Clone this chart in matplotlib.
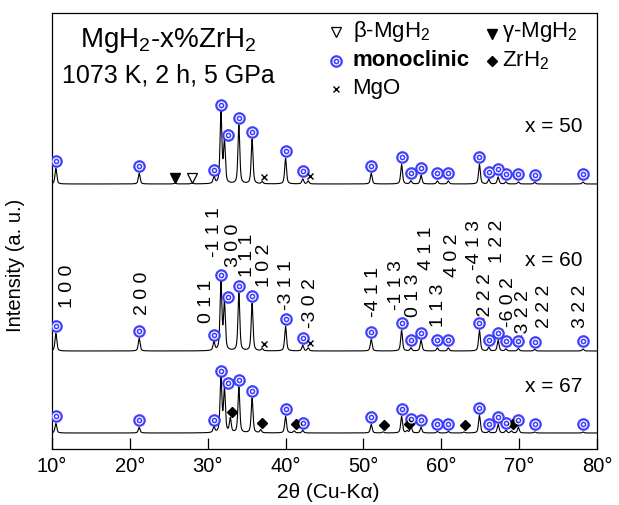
import numpy as np
import matplotlib
matplotlib.use('Agg')
import matplotlib.pyplot as plt

plt.rcParams['font.family'] = ['Liberation Sans', 'DejaVu Sans']
plt.rcParams['mathtext.fontset'] = 'custom'
plt.rcParams['mathtext.rm'] = 'Liberation Sans'
plt.rcParams['mathtext.it'] = 'Liberation Sans:italic'

# monoclinic reflections (2theta) and peak heights for each composition
mono_pos = [10.5, 21.2, 30.8, 31.7, 32.15, 34.0, 35.7, 40.0, 42.2, 51.0, 54.9,
            56.1, 57.4, 59.5, 60.9, 64.9, 66.1, 67.3, 68.3, 69.9, 72.0, 78.2]
mono_x50 = [15.5, 10.5, 6.5, 71.5, 41.5, 58.5, 44.5, 25.5, 5.0, 10.5, 19.5,
            3.0, 8.5, 3.0, 3.0, 19.5, 4.5, 7.0, 2.0, 2.0, 1.5, 2.0]
mono_x60 = [17.5, 12.5, 8.5, 68.5, 46.5, 57.5, 47.5, 24.5, 5.5, 11.5, 20.5,
            3.0, 10.5, 3.0, 3.0, 20.5, 3.5, 10.5, 2.0, 2.5, 1.5, 2.0]
mono_x67 = [9.5, 5.5, 5.5, 54.5, 42.5, 45.5, 34.5, 16.5, 2.5, 8.5, 16.5,
            6.5, 5.5, 1.5, 1.5, 17.5, 1.5, 8.5, 2.5, 5.5, 1.0, 1.0]

# impurity phases
mgo_pos = [37.0, 42.9]
mgo_x50 = [2.0, 3.0]
mgo_x60 = [2.0, 3.0]
beta_pos = [28.0]
beta_x50 = [1.0]
gamma_pos = [25.8]
gamma_x50 = [1.0]
zrh2_pos = [32.9, 36.8, 41.1, 52.5, 55.6, 62.9, 69.0]
zrh2_x67 = [14.0, 3.0, 2.0, 1.0, 2.0, 1.0, 2.0]

# Miller indices written over the x = 60 pattern
hkl_labels = ['1 0 0', '2 0 0', '0 1 1', '-1 1 1', '3 0 0', '1 1 1', '1 0 2',
              '-3 1 1', '-3 0 2', '-4 1 1', '-1 1 3', '0 1 3', '4 1 1', '1 1 3',
              '4 0 2', '-4 1 3', '-2 2 2', '1 2 2', '-6 0 2', '-3 2 2', '2 2 2',
              '3 2 2']
hkl_x = [12.05, 21.56, 29.9, 30.93, 33.25, 35.05, 37.23, 40.18, 43.26, 51.23,
         54.31, 56.37, 58.04, 59.7, 61.5, 64.2, 65.74, 67.28, 68.57, 70.5,
         73.3, 77.9]
hkl_y = [141, 134, 126, 192, 182, 172, 162, 139, 121, 132, 139, 132, 179, 122,
         172, 179, 126, 186, 122, 109, 121, 121]

xticks = [10, 20, 30, 40, 50, 60, 70, 80]

BLUE = '#3c3cff'
base = {'50': 265, '60': 98, '67': 16}


def profile(tt, pos, height, fwhm=0.28, eta=0.55):
    y = np.zeros_like(tt)
    for p, h in zip(pos, height):
        d = (tt - p) / (fwhm / 2)
        y += h * (eta / (1 + d ** 2) + (1 - eta) * np.exp(-np.log(2) * d ** 2))
    return y


def mono_marker(ax, x, y):
    ax.plot(x, y, 'o', ms=8.6, mfc=BLUE, mec=BLUE, mew=0.4, ls='none', zorder=4)
    ax.plot(x, y, 'o', ms=5.0, mfc='none', mec='white', mew=0.9, ls='none', zorder=5)
    ax.plot(x, y, 'o', ms=1.9, mfc='white', mec='none', ls='none', zorder=6)


fig = plt.figure(figsize=(6.19, 5.05), dpi=100)
ax = fig.add_axes([0.084, 0.1109, 0.8805, 0.8634])

tt = np.arange(10, 80.001, 0.01)
traces = {
    '50': [(mono_pos, mono_x50), (mgo_pos, mgo_x50), (beta_pos, beta_x50),
           (gamma_pos, gamma_x50)],
    '60': [(mono_pos, mono_x60), (mgo_pos, mgo_x60)],
    '67': [(mono_pos, mono_x67), (zrh2_pos, zrh2_x67)],
}
for key, parts in traces.items():
    y = sum(profile(tt, p, h) for p, h in parts) + base[key]
    ax.plot(tt, y, color='black', lw=0.8, zorder=3)

# phase markers above the peaks
gap = 7.5
mono_dx = np.zeros(len(mono_pos))
mono_dx[4] = 0.4
for key, h in [('50', mono_x50), ('60', mono_x60), ('67', mono_x67)]:
    mono_marker(ax, np.array(mono_pos) + mono_dx, np.array(h) + base[key] + gap)
for key, h in [('50', mgo_x50), ('60', mgo_x60)]:
    ax.plot(np.array(mgo_pos) + 0.2, np.array(h) + base[key] + 4.5, 'x',
            color='black', ms=4.5, mew=1.0, zorder=4)
ax.plot(beta_pos, np.array(beta_x50) + base['50'] + 4.5, 'v', mfc='white',
        mec='black', ms=6.5, mew=0.9, zorder=4)
ax.plot(gamma_pos, np.array(gamma_x50) + base['50'] + 4.5, 'v', color='black',
        ms=7, zorder=4)
ax.plot(np.array(zrh2_pos) + 0.2, np.array(zrh2_x67) + base['67'] + 7,
        'D', color='black', ms=5.5, zorder=4)

for lab, x, y in zip(hkl_labels, hkl_x, hkl_y):
    ax.text(x, y, lab, rotation=90, ha='center', va='bottom', fontsize=14)

# sample description
ax.text(24.9, 402, r'MgH$_2$-x%ZrH$_2$', ha='center', va='baseline', fontsize=20)
ax.text(24.9, 366, '1073 K, 2 h, 5 GPa', ha='center', va='baseline', fontsize=18)

# phase key
mono_marker(ax, [46.5], [388])
ax.plot([46.5], [417], 'v', mfc='white', mec='black', ms=6.5, mew=0.9)
ax.plot([46.5], [360], 'x', color='black', ms=4.5, mew=1.0)
ax.plot([66.5], [415], 'v', color='black', ms=7)
ax.plot([66.5], [388], 'D', color='black', ms=5.5)
ax.text(48.6, 417, r'β-MgH$_2$', va='center', fontsize=16)
ax.text(48.6, 388, 'monoclinic', va='center', fontsize=16, fontweight='bold')
ax.text(48.6, 360, 'MgO', va='center', fontsize=16)
ax.text(67.8, 417, r'γ-MgH$_2$', va='center', fontsize=16)
ax.text(67.8, 388, r'ZrH$_2$', va='center', fontsize=16)

for key, y in [('50', 322), ('60', 188), ('67', 62)]:
    ax.text(78.1, y, 'x = ' + key, ha='right', va='center', fontsize=15)

ax.set_xlim(10, 80)
ax.set_ylim(0, 436)
ax.set_xticks(xticks)
ax.set_xticklabels([f'{t}°' for t in xticks], fontsize=14.5)
ax.tick_params(axis='x', direction='in', length=8, width=0.9, pad=6)
ax.set_yticks([])
for s in ax.spines.values():
    s.set_linewidth(0.9)

ax.set_xlabel('2θ (Cu-Kα)', fontsize=15)
ax.xaxis.set_label_coords(0.506, -0.078)
ax.set_ylabel('Intensity (a. u.)', fontsize=14.5)
ax.yaxis.set_label_coords(-0.05, 0.42)

fig.savefig('out.png', dpi=100)
